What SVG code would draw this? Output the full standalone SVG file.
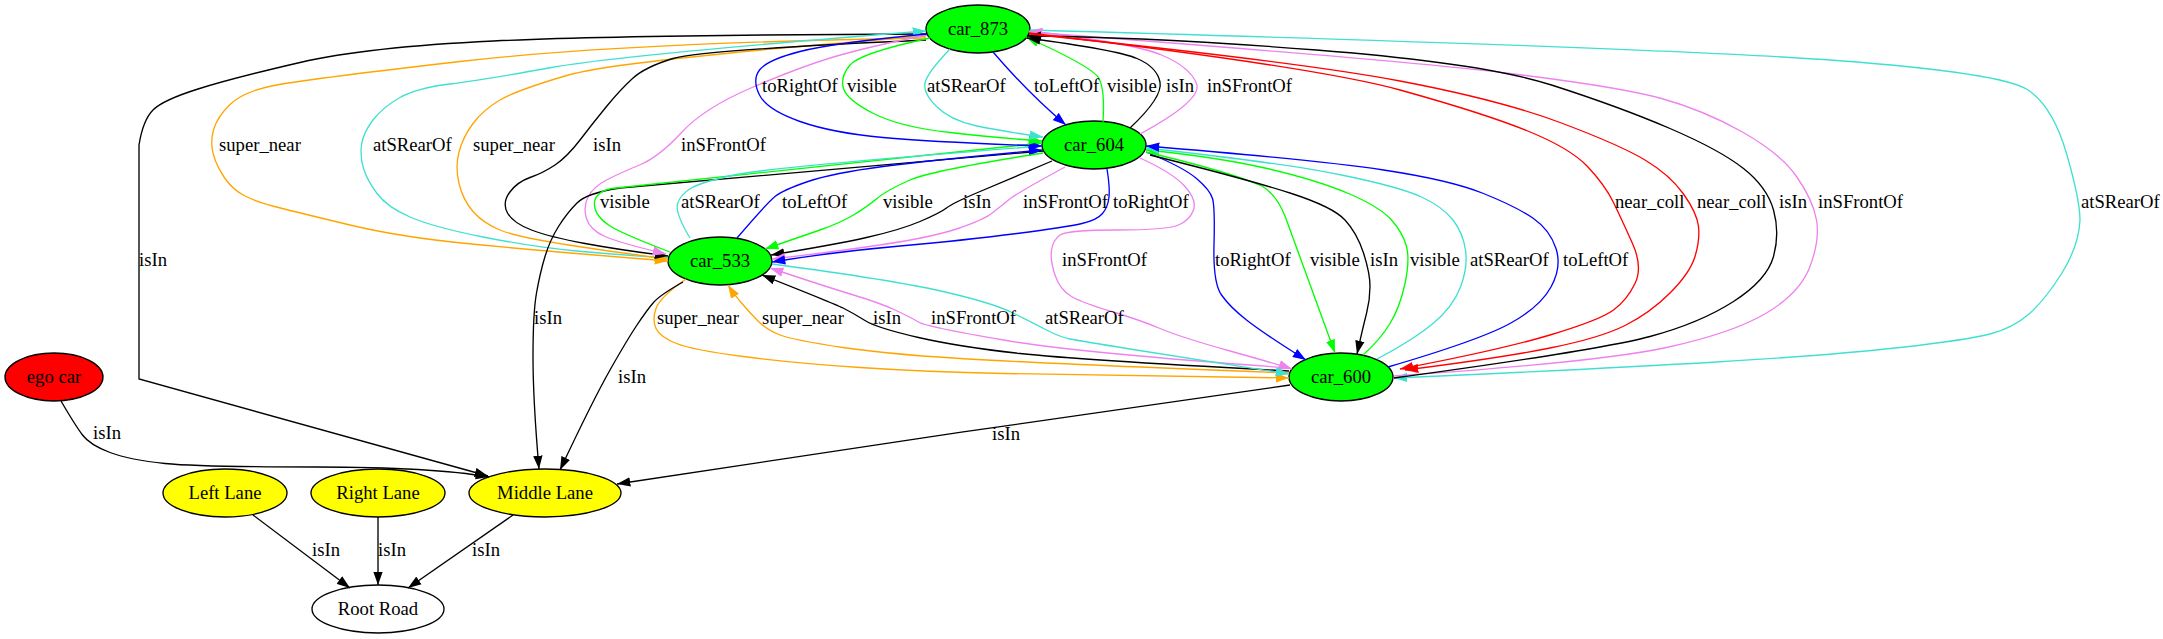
<svg xmlns="http://www.w3.org/2000/svg" width="2163" height="639" viewBox="0 0 2163 639">
<defs>
<style>
text{font-family:"Liberation Serif","Times New Roman",serif;font-size:18.67px;fill:#000}
.n text{text-anchor:middle}
.n ellipse{stroke:#000;stroke-width:1.33}
.e path{fill:none;stroke-width:1.33}
.k{stroke:#000;marker-end:url(#ak)}
.o{stroke:#ffa500;marker-end:url(#ao)}
.t{stroke:#40e0d0;marker-end:url(#at)}
.b{stroke:#0000ff;marker-end:url(#ab)}
.g{stroke:#00ff00;marker-end:url(#ag)}
.v{stroke:#ee82ee;marker-end:url(#av)}
.r{stroke:#ff0000;marker-end:url(#ar)}
</style>
<marker id="ak" viewBox="0 0 14 10" refX="13.3" refY="5" markerWidth="14" markerHeight="10" markerUnits="userSpaceOnUse" orient="auto"><path d="M0,0.3 L13.3,5 L0,9.7 Z" fill="#000"/></marker>
<marker id="ao" viewBox="0 0 14 10" refX="13.3" refY="5" markerWidth="14" markerHeight="10" markerUnits="userSpaceOnUse" orient="auto"><path d="M0,0.3 L13.3,5 L0,9.7 Z" fill="#ffa500"/></marker>
<marker id="at" viewBox="0 0 14 10" refX="13.3" refY="5" markerWidth="14" markerHeight="10" markerUnits="userSpaceOnUse" orient="auto"><path d="M0,0.3 L13.3,5 L0,9.7 Z" fill="#40e0d0"/></marker>
<marker id="ab" viewBox="0 0 14 10" refX="13.3" refY="5" markerWidth="14" markerHeight="10" markerUnits="userSpaceOnUse" orient="auto"><path d="M0,0.3 L13.3,5 L0,9.7 Z" fill="#0000ff"/></marker>
<marker id="ag" viewBox="0 0 14 10" refX="13.3" refY="5" markerWidth="14" markerHeight="10" markerUnits="userSpaceOnUse" orient="auto"><path d="M0,0.3 L13.3,5 L0,9.7 Z" fill="#00ff00"/></marker>
<marker id="av" viewBox="0 0 14 10" refX="13.3" refY="5" markerWidth="14" markerHeight="10" markerUnits="userSpaceOnUse" orient="auto"><path d="M0,0.3 L13.3,5 L0,9.7 Z" fill="#ee82ee"/></marker>
<marker id="ar" viewBox="0 0 14 10" refX="13.3" refY="5" markerWidth="14" markerHeight="10" markerUnits="userSpaceOnUse" orient="auto"><path d="M0,0.3 L13.3,5 L0,9.7 Z" fill="#ff0000"/></marker>
</defs>
<rect width="2163" height="639" fill="#fff"/>

<g class="n" id="node-car_873"><ellipse cx="978" cy="29" rx="52" ry="24" fill="#00ff00"/><text x="978" y="35">car_873</text></g>
<g class="n" id="node-car_604"><ellipse cx="1094" cy="145" rx="52" ry="24" fill="#00ff00"/><text x="1094" y="151">car_604</text></g>
<g class="n" id="node-car_533"><ellipse cx="720" cy="261" rx="52" ry="24" fill="#00ff00"/><text x="720" y="267">car_533</text></g>
<g class="n" id="node-car_600"><ellipse cx="1341" cy="377" rx="52" ry="24" fill="#00ff00"/><text x="1341" y="383">car_600</text></g>
<g class="n" id="node-ego_car"><ellipse cx="54" cy="377" rx="49" ry="24" fill="#ff0000"/><text x="54" y="383">ego car</text></g>
<g class="n" id="node-left_lane"><ellipse cx="225" cy="493" rx="62" ry="24" fill="#ffff00"/><text x="225" y="499">Left Lane</text></g>
<g class="n" id="node-right_lane"><ellipse cx="378" cy="493" rx="67" ry="24" fill="#ffff00"/><text x="378" y="499">Right Lane</text></g>
<g class="n" id="node-middle_lane"><ellipse cx="545" cy="493" rx="76" ry="24" fill="#ffff00"/><text x="545" y="499">Middle Lane</text></g>
<g class="n" id="node-root_road"><ellipse cx="378" cy="609" rx="66" ry="24" fill="#ffffff"/><text x="378" y="615">Root Road</text></g>

<g class="e" id="connectors">
<!-- car_873 -> Middle Lane -->
<path class="k" d="M927,34 Q620,35 493.5,41 Q367,47 300,62.5 Q233,78 198,89 Q163,100 153,110 Q143,120 139,145 L139,379 L488,476"/>
<!-- car_873 <-> car_533 -->
<path class="o" d="M926,38 Q620,43 460,61.5 Q300,80 271.5,86 Q243,92 230,104.5 Q217,117 213.5,130 Q210,143 213.5,155 Q217,167 225,178.5 Q233,190 245,196 Q257,202 278.5,207.5 Q300,213 350,225 Q400,237 466.5,243.5 Q533,250 576.5,253.5 Q620,257 668,261"/>
<path class="t" d="M668,258 Q620,255 576.5,251 Q533,247 483,237 Q433,227 410,217 Q387,207 377,193.5 Q367,180 363.5,168.5 Q360,157 361.5,145 Q363,133 373,120 Q383,107 400,97.5 Q417,88 450,84 Q483,80 551.5,67.5 Q620,55 926,31"/>
<path class="o" d="M926,36 Q620,60 568.5,75 Q517,90 500,100 Q483,110 473,123.5 Q463,137 459,152 Q455,167 459,183.5 Q463,200 473,211.5 Q483,223 500,230 Q517,237 568.5,245 Q620,253 668,259"/>
<path class="k" d="M926,40 Q701,50 673,58.5 Q645,67 632.5,78.5 Q620,90 606.5,106.5 Q593,123 580,140 Q567,157 555,165 Q543,173 530,177.5 Q517,182 509.5,192.5 Q502,203 507.5,213 Q513,223 531.5,230 Q550,237 585,243.5 Q620,250 668,256"/>
<path class="v" d="M927,35 Q867,47 833.5,57 Q800,67 752,87.5 Q704,108 681.5,132.5 Q659,157 639.5,165 Q620,173 606.5,180 Q593,187 588,197 Q583,207 586.5,218.5 Q590,230 605,236.5 Q620,243 666,254"/>
<!-- car_604 -> Middle Lane -->
<path class="k" d="M1043,151 L620,188 Q587,193 577,203 Q567,213 558.5,226.5 Q550,240 545,256.5 Q540,273 536.5,293 Q533,313 533,356.5 Q533,400 539,469"/>
<!-- car_604 <-> car_533 -->
<path class="g" d="M670,252 Q620,233 608.5,225 Q597,217 595,208.5 Q593,200 598,195 Q603,190 611.5,188.5 Q620,187 1042,143"/>
<path class="t" d="M690,238 Q675,213 677.5,204 Q680,195 690.5,188.5 Q701,182 736.5,174.5 Q772,167 1042,146"/>
<path class="b" d="M737,238 Q767,203 775,196.5 Q783,190 808,181.5 Q833,173 883,166.5 Q933,160 1042,150"/>
<path class="g" d="M1043,153 Q933,170 910,180 Q887,190 877,198.5 Q867,207 853.5,215 Q840,223 820,230 Q800,237 765,249"/>
<path class="k" d="M1052,161 Q1000,183 976.5,193 Q953,203 946.5,208 Q940,213 920,221.5 Q900,230 866.5,237.5 Q833,245 771,255"/>
<path class="v" d="M1065,167 Q1017,193 1008.5,200 Q1000,207 991.5,213.5 Q983,220 958,228.5 Q933,237 883,244.5 Q833,252 772,259"/>
<path class="b" d="M1107,169 Q1110,187 1109,197 Q1108,207 1102.5,213.5 Q1097,220 1082,223.5 Q1067,227 1017,233.5 Q967,240 900,246 Q833,252 772,262"/>
<!-- car_604 <-> car_600 -->
<path class="v" d="M1140,158 Q1173,173 1185,186.5 Q1197,200 1193.5,210 Q1190,220 1178.5,225 Q1167,230 1117,230 Q1067,230 1060,235 Q1053,240 1051.5,250 Q1050,260 1055,275 Q1060,290 1071.5,296.5 Q1083,303 1111.5,311.5 Q1140,320 1160,328.5 Q1180,337 1230,351 Q1280,365 1292,369"/>
<path class="b" d="M1146,152 Q1183,167 1196.5,178.5 Q1210,190 1212.5,198.5 Q1215,207 1214,245 Q1213,283 1221.5,295 Q1230,307 1246.5,320 Q1263,333 1306,360"/>
<path class="g" d="M1146,152 Q1230,172 1262,186 Q1276,194 1285,216 L1335,353"/>
<path class="k" d="M1150,155 Q1250,180 1291.5,193.5 Q1333,207 1345,220 Q1357,233 1363.5,253 Q1370,273 1370,286.5 Q1370,300 1366.5,313.5 Q1363,327 1357,354"/>
<path class="g" d="M1363,355 Q1380,340 1390,323.5 Q1400,307 1405,283.5 Q1410,260 1406.5,246.5 Q1403,233 1391.5,220 Q1380,207 1348.5,193.5 Q1317,180 1267,168.5 Q1217,157 1146,150"/>
<path class="t" d="M1377,359 Q1413,340 1433,323.5 Q1453,307 1460.5,287 Q1468,267 1465.5,250 Q1463,233 1453,220 Q1443,207 1421.5,197 Q1400,187 1341.5,175 Q1283,163 1146,148"/>
<path class="b" d="M1388,367 Q1480,340 1510,323.5 Q1540,307 1551,287 Q1562,267 1556,248.5 Q1550,230 1533.5,218.5 Q1517,207 1483.5,193.5 Q1450,180 1383.5,170 Q1317,160 1146,146"/>
<!-- car_873 <-> car_604 -->
<path class="b" d="M927,34 Q833,43 800,51.5 Q767,60 759.5,70 Q752,80 759.5,95 Q767,110 800,121.5 Q833,133 883,137.5 Q933,142 1042,146"/>
<path class="g" d="M930,38 Q860,53 850,65 Q840,77 843.5,88.5 Q847,100 873.5,113.5 Q900,127 950,132.5 Q1000,138 1042,141"/>
<path class="t" d="M950,49 Q927,73 925,83 Q923,93 936.5,106.5 Q950,120 975,125.5 Q1000,131 1043,137"/>
<path class="b" d="M993,52 Q1030,95 1066,125"/>
<path class="g" d="M1103,122 Q1105,90 1099,78.5 Q1093,67 1026,37"/>
<path class="k" d="M1130,128 Q1163,97 1160,82 Q1157,67 1137,58.5 Q1117,50 1027,38"/>
<path class="v" d="M1140,134 Q1203,100 1196.5,83.5 Q1190,67 1161.5,55 Q1133,43 1029,31"/>
<!-- car_873 <-> car_600 -->
<path class="t" d="M1030,30 Q1670,48 1836.5,60.5 Q2003,73 2028,90 Q2053,107 2066.5,153.5 Q2080,200 2080,220 Q2079,245 2062,273 Q2045,300 2029,314 Q2013,328 1990,334 Q1967,340 1900,347.5 Q1833,355 1716.5,362 Q1600,369 1394,378"/>
<path class="v" d="M1394,376 Q1600,362 1666.5,347.5 Q1733,333 1766.5,313 Q1800,293 1810,266.5 Q1820,240 1816.5,220 Q1813,200 1796.5,176.5 Q1780,153 1741.5,131.5 Q1703,110 1661.5,98.5 Q1620,87 1510,73.5 Q1400,60 1029,32"/>
<path class="k" d="M1394,378 Q1600,350 1650,336.5 Q1700,323 1733.5,301.5 Q1767,280 1773.5,256.5 Q1780,233 1773.5,210 Q1767,187 1743.5,168.5 Q1720,150 1670,128.5 Q1620,107 1551.5,85 Q1483,63 1316.5,50 Q1150,37 1028,36"/>
<path class="r" d="M1029,34 Q1300,62 1400,81 Q1500,100 1560,122.5 Q1620,145 1645,160 Q1670,175 1683.5,194 Q1697,213 1698.5,226.5 Q1700,240 1695,256.5 Q1690,273 1670,293 Q1650,313 1625,325.5 Q1600,338 1550,348 Q1500,358 1405,370"/>
<path class="r" d="M1029,33 Q1317,67 1400,90 Q1483,113 1526.5,130.5 Q1570,148 1587.5,166.5 Q1605,185 1613.5,202.5 Q1622,220 1632.5,243.5 Q1643,267 1635,283.5 Q1627,300 1613.5,310 Q1600,320 1550,335 Q1500,350 1400,369"/>
<!-- car_533 <-> car_600 -->
<path class="o" d="M686,279 Q660,297 656,308.5 Q652,320 656,328.5 Q660,337 676.5,343.5 Q693,350 743,356.5 Q793,363 860,367.5 Q927,372 1003.5,373.5 Q1080,375 1289,378"/>
<path class="o" d="M1289,373 Q1080,365 986.5,360 Q893,355 843,347.5 Q793,340 780,335 Q767,330 758.5,321.5 Q750,313 741.5,303 Q733,293 728,285"/>
<path class="k" d="M1289,371 Q1080,360 1020,353.5 Q960,347 918.5,337.5 Q877,328 865,320.5 Q853,313 843,308 Q833,303 762,275"/>
<path class="v" d="M1290,368 Q1080,353 1003.5,340 Q927,327 918.5,322 Q910,317 895,310 Q880,303 853.5,295 Q827,287 770,268"/>
<path class="t" d="M772,264 Q893,280 943,291.5 Q993,303 1013,313 Q1033,323 1046.5,330 Q1060,337 1070,339 Q1080,341 1130,349 Q1180,357 1289,374"/>
<!-- to Middle Lane -->
<path class="k" d="M683,282 Q660,295 653.5,302.5 Q647,310 637,325 Q627,340 610,370 Q593,400 560,470"/>
<path class="k" d="M1290,385 C1100,412 800,455 617,484"/>
<path class="k" d="M61,401 Q75,425 82.5,435 Q90,445 110,452.5 Q130,460 165,463.5 Q200,467 316.5,467 Q433,467 489,477"/>
<!-- lanes -> Root Road -->
<path class="k" d="M253,515 L350,588"/>
<path class="k" d="M378,517 L378,585"/>
<path class="k" d="M513,515 L408,588"/>

<!-- labels -->
<text x="762" y="92">toRightOf</text>
<text x="847" y="92">visible</text>
<text x="927" y="92">atSRearOf</text>
<text x="1034" y="92">toLeftOf</text>
<text x="1107" y="92">visible</text>
<text x="1166" y="92">isIn</text>
<text x="1207" y="92">inSFrontOf</text>

<text x="219" y="151">super_near</text>
<text x="373" y="151">atSRearOf</text>
<text x="473" y="151">super_near</text>
<text x="593" y="151">isIn</text>
<text x="681" y="151">inSFrontOf</text>

<text x="600" y="208">visible</text>
<text x="681" y="208">atSRearOf</text>
<text x="782" y="208">toLeftOf</text>
<text x="883" y="208">visible</text>
<text x="963" y="208">isIn</text>
<text x="1023" y="208">inSFrontOf</text>
<text x="1113" y="208">toRightOf</text>
<text x="1615" y="208">near_coll</text>
<text x="1697" y="208">near_coll</text>
<text x="1779" y="208">isIn</text>
<text x="1818" y="208">inSFrontOf</text>
<text x="2081" y="208">atSRearOf</text>

<text x="139" y="266">isIn</text>
<text x="1062" y="266">inSFrontOf</text>
<text x="1215" y="266">toRightOf</text>
<text x="1310" y="266">visible</text>
<text x="1370" y="266">isIn</text>
<text x="1410" y="266">visible</text>
<text x="1470" y="266">atSRearOf</text>
<text x="1563" y="266">toLeftOf</text>

<text x="534" y="324">isIn</text>
<text x="657" y="324">super_near</text>
<text x="762" y="324">super_near</text>
<text x="873" y="324">isIn</text>
<text x="931" y="324">inSFrontOf</text>
<text x="1045" y="324">atSRearOf</text>

<text x="618" y="383">isIn</text>
<text x="93" y="439">isIn</text>
<text x="992" y="440">isIn</text>

<text x="312" y="556">isIn</text>
<text x="378" y="556">isIn</text>
<text x="472" y="556">isIn</text>
</g>
</svg>
